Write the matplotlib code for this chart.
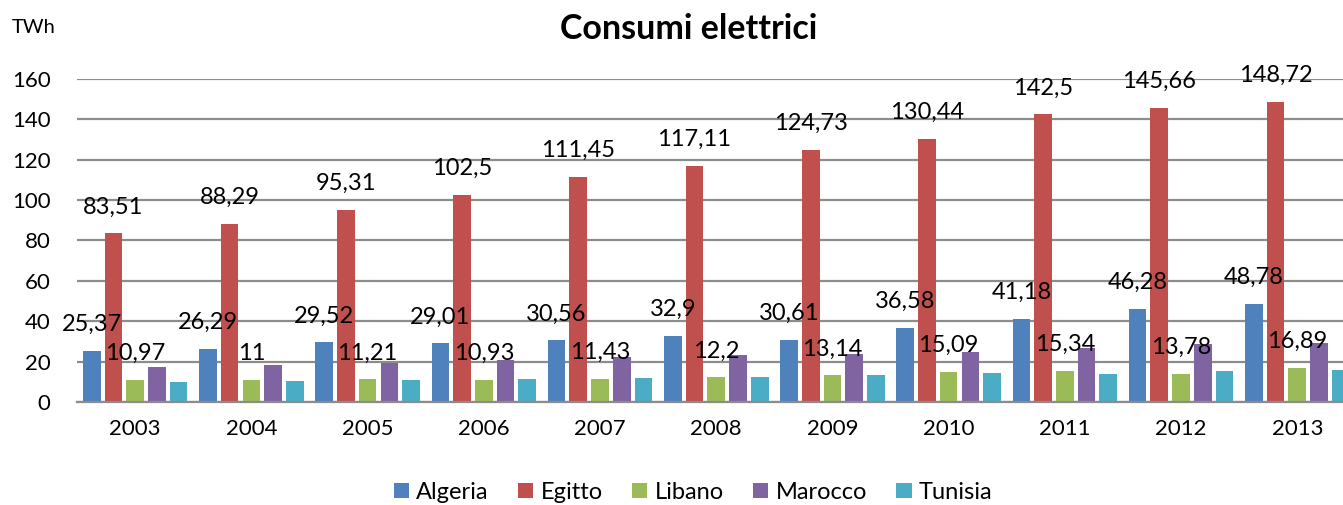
import numpy as np
import matplotlib.pyplot as plt
from matplotlib.patches import Patch

# dati (TWh)
anni = ["2003", "2004", "2005", "2006", "2007", "2008", "2009", "2010", "2011", "2012", "2013"]
algeria = [25.37, 26.29, 29.52, 29.01, 30.56, 32.9, 30.61, 36.58, 41.18, 46.28, 48.78]
egitto = [83.51, 88.29, 95.31, 102.5, 111.45, 117.11, 124.73, 130.44, 142.5, 145.66, 148.72]
libano = [10.97, 11, 11.21, 10.93, 11.43, 12.2, 13.14, 15.09, 15.34, 13.78, 16.89]
marocco = [17.2, 18.3, 19.5, 20.9, 22.1, 23.1, 23.9, 24.9, 26.9, 28.7, 29.0]
tunisia = [9.7, 10.4, 10.9, 11.2, 11.9, 12.4, 13.2, 14.4, 14.0, 15.3, 15.6]

paesi = ["Algeria", "Egitto", "Libano", "Marocco", "Tunisia"]
serie = [algeria, egitto, libano, marocco, tunisia]
colori = ["#4F81BD", "#C0504D", "#9BBB59", "#8064A2", "#4BACC6"]
con_etichette = [True, True, True, False, False]

plt.rcParams['font.family'] = ['Lato', 'DejaVu Sans']

fig = plt.figure(figsize=(13.43, 5.05), dpi=100)
ax = fig.add_axes([0.0574, 0.204, 0.9518, 0.6396])

x = np.arange(len(anni))
passo = 0.187
larg = 0.152

for k in range(len(paesi)):
    pos = x + (k - 2) * passo
    ax.bar(pos, serie[k], width=larg, color=colori[k], zorder=3)
    if con_etichette[k]:
        for xi, v in zip(pos, serie[k]):
            testo = ("%g" % v).replace(".", ",")
            ax.annotate(testo, (xi, v), xytext=(0, 19), textcoords="offset points",
                        ha="center", va="center", fontsize=17, zorder=5)

ax.set_ylim(0, 160)
ax.set_xlim(-0.5, len(anni) - 0.5)
ax.set_yticks(np.arange(0, 161, 20))
ax.set_xticks(x)
ax.set_xticklabels(anni)
ax.tick_params(axis="y", length=0, labelsize=16, pad=19)
ax.tick_params(axis="x", length=0, labelsize=16, pad=12)
ax.grid(axis="y", color="#8c8c8c", linewidth=1.6, zorder=0)
for s in ["top", "right", "left"]:
    ax.spines[s].set_visible(False)
ax.spines["bottom"].set_color("#8c8c8c")
ax.spines["bottom"].set_linewidth(1.6)
ax.spines["bottom"].set_zorder(4)

fig.text(0.513, 0.943, "Consumi elettrici", ha="center", va="center",
         fontsize=24.5, fontweight="bold")
fig.text(0.009, 0.945, "TWh", ha="left", va="center", fontsize=14.5)

handles = [Patch(facecolor=c) for c in colori]
fig.legend(handles, paesi, loc="center", bbox_to_anchor=(0.516, 0.025),
           ncol=5, frameon=False, fontsize=17, handlelength=0.65, handleheight=0.65,
           handletextpad=0.3, columnspacing=1.25)

fig.savefig("out.png", dpi=100)
